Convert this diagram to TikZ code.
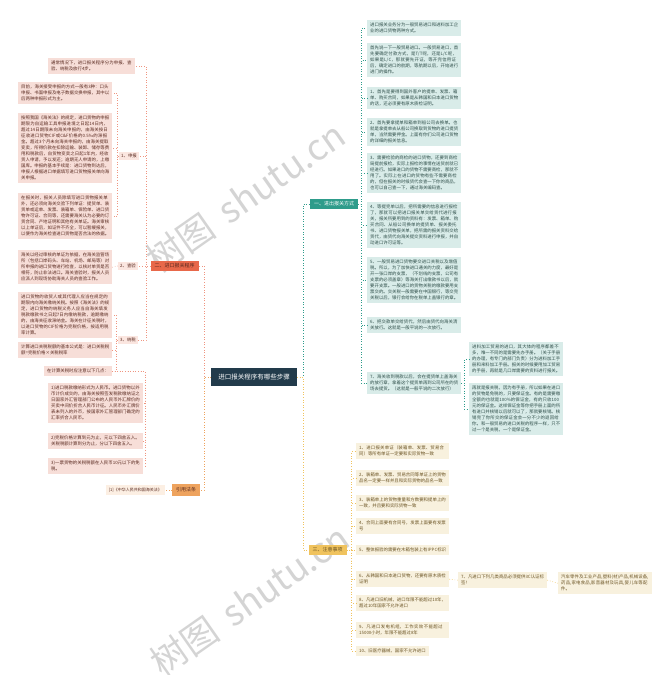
\documentclass[tikz,border=0pt]{standalone}
\usepackage{fontspec}
\setmainfont{Noto Sans CJK SC}
\XeTeXlinebreaklocale "zh"
\XeTeXlinebreakskip = 0pt plus 1pt
\definecolor{rootbg}{HTML}{223B4B}
\definecolor{tealbr}{HTML}{2E9C8B}
\definecolor{tealbg}{HTML}{D9ECE9}
\definecolor{tealtx}{HTML}{2F4F4A}
\definecolor{redbr}{HTML}{E8684A}
\definecolor{pinkbg}{HTML}{F7DED8}
\definecolor{pinktag}{HTML}{FBE6E0}
\definecolor{pinktx}{HTML}{5A2A20}
\definecolor{goldbr}{HTML}{F0C35E}
\definecolor{goldbg}{HTML}{F8F1DE}
\definecolor{goldtx}{HTML}{6B5424}
\definecolor{orgbr}{HTML}{EEA35E}
\definecolor{orgbg}{HTML}{FCEFE3}

\begin{document}
\begin{tikzpicture}[x=1pt,y=-1pt,
    txt/.style={anchor=north west,inner xsep=3pt,inner ysep=3pt,text width=88pt,
      align=left,font=\fontsize{4.4}{6}\selectfont},
    leafA/.style={txt,fill=tealbg,text=tealtx},
    leafB/.style={txt,fill=pinkbg,text=pinktx},
    leafC/.style={txt,fill=goldbg,text=goldtx},
    tagB/.style={fill=pinktag,text=pinktx,inner xsep=2pt,inner ysep=2pt,
      font=\fontsize{4.4}{5}\selectfont},
    mainbr/.style={inner xsep=4pt,inner ysep=3pt,font=\fontsize{5}{6}\selectfont},
    lnA/.style={draw=tealbr,dotted,line width=0.6pt},
    lnB/.style={draw=redbr!70,dotted,line width=0.6pt},
    lnC/.style={draw=goldbr,dotted,line width=0.6pt},
    lnD/.style={draw=orgbr,dotted,line width=0.6pt},
    wmark/.style={text=black!17,font=\fontsize{36}{36}\selectfont,rotate=35}
  ]
  % 画布
  \fill[white] (0,0) rectangle (671,675);
  \useasboundingbox (0,0) rectangle (671,675);
  % 水印
  \node[wmark] (wm1) at (246,197) {树图\hspace{14pt}shutu.cn};
  \node[wmark] (wm2) at (250,600) {树图\hspace{14pt}shutu.cn};
  \node[wmark] (wm3) at (790,262) {树图\hspace{14pt}shutu.cn};
  \node[wmark] (wm4) at (798,598) {树图\hspace{14pt}shutu.cn};
  % 根节点
  \node[fill=rootbg,text=white,minimum width=86pt,minimum height=18pt,
    font=\fontsize{6.5}{7}\selectfont] (root) at (254,377) {进口报关程序有哪些步骤};
  % 三个分支和引用法条
  \node[mainbr,fill=tealbr,text=white] (b1) at (334,204) {一、进出报关方式};
  \node[mainbr,fill=redbr,text=pinktx] (b2) at (174.5,266) {二、进口报关程序};
  \node[mainbr,fill=goldbr,text=goldtx] (b3) at (327.5,550) {三、注意事项};
  \node[mainbr,fill=orgbr,text=pinktx,inner ysep=4pt] (b4) at (186,490) {引用法条};
  \draw[lnA] (root.east) -- ++(6,0) |- (b1.west);
  \draw[lnC] (root.east) -- ++(6,0) |- (b3.west);
  \draw[lnB] (root.west) -- ++(-7,0) |- (b2.east);
  \draw[lnD] (root.west) -- ++(-7,0) |- (b4.east);

  % 一、进出报关方式
  \node[leafA] (c1) at (367,20) {进口报关业务分为一般贸易进口和进料加工企业的进口货物两种方式。};
  \node[leafA] (c2) at (367,43) {首先说一下一般贸易进口。一般贸易进口，首先要确定付款方式，是T/T呢，还是L/C呢，如果是L/C，那就要先开证，等开完信用证后，确定进口的航期，等航期以后，开始进行进门的操作。};
  \node[leafA] (c3) at (367,87) {1、首先是要得到国外客户的提单、发票、箱单、购买合同，如果是从韩国和日本进口货物的话，还必须要有原木质检证明。};
  \node[leafA] (c4) at (367,118) {2、首先要拿提单和箱单到船公司去换单。也就是拿提单去从船公司换取到货物的进口提货单，当然需要押金。上面有你们公司进口货物的详细的报关信息。};
  \node[leafA] (c5) at (367,153) {3、需要检验的商检的进口货物，还要到商检局提前报检，实际上报检的事情在送货前就已经进行。如果进口的货物不需要商检，那就不用了。实际上在进口的货物有些不需要商检的，但在报关的时候货代会查一下你的商品，也可以自己查一下，通过海关编码查。};
  \node[leafA] (c6) at (367,202) {4、等提完单以后，把所需要的信息进行报检了，那就可以把进口报关单交给货代进行报关，报关所要用到的资料有：发票、箱单、购买合同、从船公司换单的提货单、报关委托书、进口货物报关单，把所需的报关资料交给货代，由货代向海关提交资料进行申报，并自动进口许可证等。};
  \node[leafA] (c7) at (367,257) {5、一般贸易进口货物要交进口关税以及增值税。所以，为了加快进口通关的力度，最好是开一张口岸的支票，（不划线的支票，公司有支票的必须盖章）等海关打出缴款书以后，就要开支票。一般进口的货物关税的缴款要用支票交的。交关税一般需要在中国银行，等交完关税以后，银行会给你在税单上盖银行的章。};
  \node[leafA] (c8) at (367,317) {6、把交款单交给货代，然后由货代向海关清关放行。这就是一般平说的一次放行。};
  \node[leafA] (c9) at (367,372) {7、海关收到税款以后，会在提货单上盖海关的放行章，拿着这个提货单再到公司所在的货场去提货。（这就是一般平说的二次放行）};
  \foreach \n in {c1,c2,c3,c4,c5,c6,c7,c8,c9}
    \draw[lnA] (b1.east) -- ++(3,0) |- (\n.west);
  \node[leafA] (g1) at (469,342) {进料加工贸易的进口，其大体的程序都差不多，唯一不同的是需要先办手册。（关于手册的办理，有专门的部门负责）分为进料加工手册和来料加工手册。报关的时候要用加工贸易的手册，再就是几口岸需要的资料进行报关。};
  \node[leafA] (g2) at (469,383) {再就是报关税，因为有手册，所以如果在进口的货物是免税的，只要保证金。有的是需要缴全额的也就是100\%的保证金，有的只收100元的保证金。这样保证金等你把手册上面的所有进口并核销以后就可以了，那就要核销。核销完了你所交的保证金会一分不少的退回给你。和一般贸易的进口关税的程序一样，只不过一个是关税，一个是保证金。};
  \draw[lnA] (c9.east) -- ++(3,0) |- (g1.west);
  \draw[lnA] (c9.east) -- ++(3,0) |- (g2.west);

  % 二、进口报关程序
  \node[leafB,text width=81pt] (l0) at (48,58) {通常情况下，进口报关程序分为申报、查验、纳税及放行4步。};
  \node[tagB] (s1) at (129,156) {1、申报};
  \node[tagB] (s2) at (128,266) {2、查验};
  \node[tagB] (s3) at (128,340) {3、纳税};
  \foreach \n in {l0,s1,s2,s3}
    \draw[lnB] (b2.west) -- ++(-4,0) |- (\n.east);
  \node[leafB] (l1) at (18,82) {目前，海关接受申报的方式一般有3种：口头申报、书面申报及电子数据交换申报，其中以后两种申报形式为主。};
  \node[leafB] (l2) at (18,113) {按照我国《海关法》的规定，进口货物的申报期限为自运输工具申报进境之日起14日内，超过14日期限未向海关申报的，由海关按日征收进口货物CIF或C\&F价格的0.5‰的滞报金。超过3个月未向海关申报的，由海关提取变卖，所得价款在扣除运输、装卸、储存等费用和税款后，自货物变卖之日起1年内，经收货人申请，予以发还；逾期无人申请的，上缴国库。申报的基本手续是：进口货物到达后，申报人根据进口单据填写进口货物报关单向海关申报。};
  \node[leafB] (l3) at (18,193) {在报关时，报关人员除填写进口货物报关单外，还必须向海关交验下列单证：提货单、装货单或运单、发票、装箱单、保险单、进口货物许可证、合同等，还需要海关认为必要的订货合同、产地证明和其他有关单证。海关审核以上单证后，如证件不齐全，可以暂缓报关，以便作为海关检查进口货物是否合法的依据。};
  \foreach \n in {l1,l2,l3}
    \draw[lnB] (s1.west) -- ++(-2,0) |- (\n.east);
  \node[leafB] (l4) at (18,250) {海关以经过审核的单证为依据，在海关监管场所（包括口岸码头、车站、机场、邮局等）对所申报的进口货物进行检查，以核对单货是否相符，防止非法进口。海关查验时，报关人员应派人到现场协助海关人员的查验工作。};
  \draw[lnB] (s2.west) -- (l4.east);
  \node[leafB] (l5) at (18,292) {进口货物的收货人或其代理人应当在规定的期限内向海关缴纳关税。按照《海关法》的规定，进口货物的纳税义务人应当自海关填发税款缴款书之日起7日内缴纳税款，逾期缴纳的，由海关征收滞纳金。海关在计征关税时，以进口货物的CIF价格为完税价格，按适用税率计算。};
  \node[leafB] (l6) at (18,342) {计算进口关税税额的基本公式是：进口关税税额=完税价格×关税税率};
  \node[leafB,text width=,anchor=north east] (l7) at (112,366) {在计算关税时应注意以下几点：};
  \foreach \n in {l5,l6,l7}
    \draw[lnB] (s3.west) -- ++(-2,0) |- (\n.east);
  \node[leafB,text width=89pt] (n1) at (48,383) {1)进口税款缴纳形式为人民币。进口货物以外币计价成交的，由海关按照签发税款缴纳证之日国家外汇管理部门公布的人民币外汇牌价的买卖中间价折合人民币计征。人民币外汇牌价表未列入的外币，按国家外汇管理部门确定的汇率折合人民币。};
  \node[leafB,text width=89pt] (n2) at (48,433) {2)完税价格计算到元为止，元以下四舍五入。关税税额计算到分为止，分以下四舍五入。};
  \node[leafB,text width=89pt] (n3) at (48,458) {3)一票货物的关税税额在人民币10元以下的免税。};
  \foreach \n in {n1,n2,n3}
    \draw[lnB] (l7.east) -- ++(33,0) |- (\n.east);

  % 三、注意事项
  \node[leafC,text width=87pt] (i1) at (356,443) {1、进口报关单证（装箱单、发票、贸易合同）等所有单证一定要和实际货物一致};
  \node[leafC,text width=87pt] (i2) at (356,470) {2、装箱单、发票、贸易合同等单证上的货物品名一定要一样并且和实际货物的品名一致};
  \node[leafC,text width=87pt] (i3) at (356,495) {3、装箱单上的货物重量和方数要和提单上的一致，并且要和实际货物一致};
  \node[leafC,text width=87pt] (i4) at (356,518) {4、合同上面要有合同号，发票上面要有发票号};
  \node[leafC,text width=87pt] (i5) at (356,545) {5、整体报验的需要在木箱包装上有IPPC标识};
  \node[leafC,text width=87pt] (i6) at (356,571) {6、从韩国和日本进口货物，还要有原木质检证明};
  \node[leafC,text width=87pt] (i8) at (356,595) {8、凡进口旧机械，进口年限不能超过10年，超过10年国家不允许进口};
  \node[leafC,text width=87pt] (i9) at (356,622) {9、凡进口发电机组，工作实效不能超过15000小时，年限不能超过8年};
  \node[leafC,text width=] (i10) at (356,646) {10、旧医疗器械，国家不允许进口};
  \foreach \n in {i1,i2,i3,i4,i5,i6,i8,i9,i10}
    \draw[lnC] (b3.east) -- ++(5,0) |- (\n.west);
  \node[leafC,text width=83pt] (i7) at (458,572) {7、凡进口下列几类商品必须提供3C认证标签！};
  \node[leafC,text width=88pt] (i7a) at (558,572) {汽车零件及工业产品,塑料(材)产品,机械设备,药品,家电食品,影音器材及玩具,婴儿车等配件。};
  \draw[lnC] (i6.east) -- (i7.west);
  \draw[lnC] (i7.east) -- (i7a.west);

  % 引用法条
  \node[txt,anchor=east,text width=,fill=orgbg,text=pinktx,
    font=\fontsize{4}{5}\selectfont] (r1) at (165,490) {[1]《中华人民共和国海关法》};
  \draw[lnD] (b4.west) -- (r1.east);
\end{tikzpicture}
\end{document}
